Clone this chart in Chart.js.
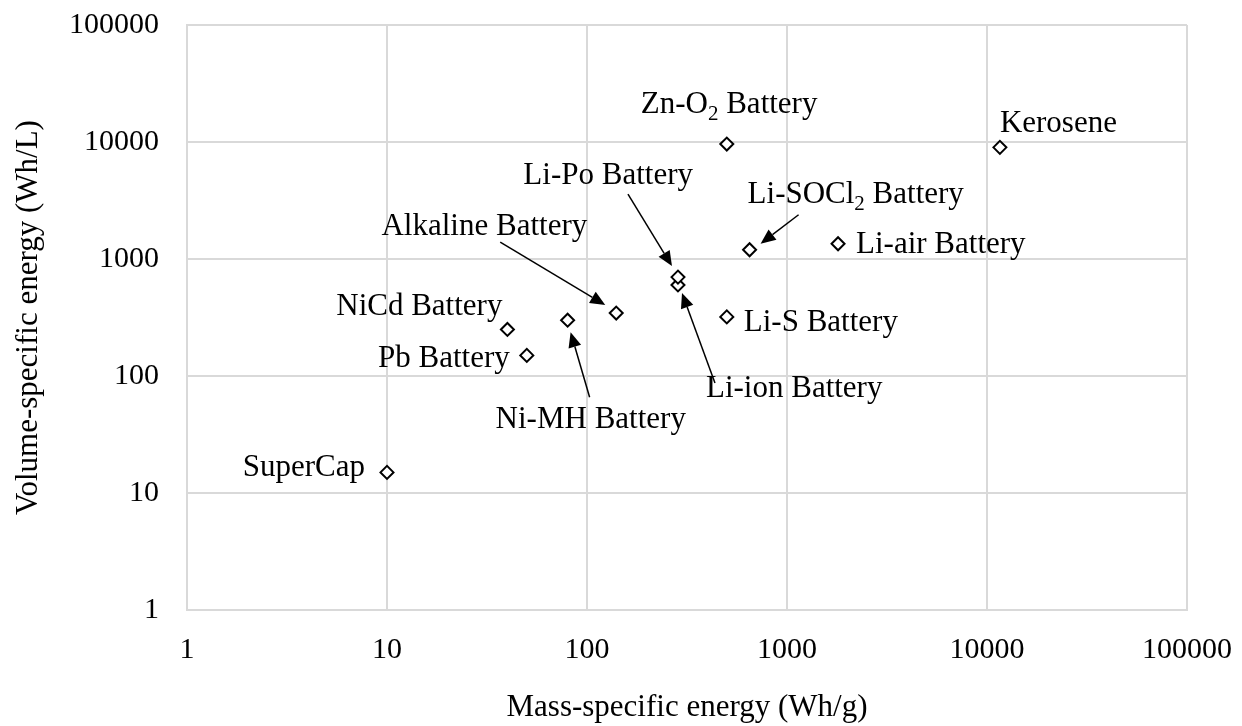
<!DOCTYPE html>
<html>
<head>
<meta charset="utf-8">
<script src="https://cdn.jsdelivr.net/npm/chart.js@4.4.1/dist/chart.umd.min.js"></script>
<style>
  html, body { margin: 0; padding: 0; background: #fff; }
  #wrap { width: 1242px; height: 726px; }
</style>
</head>
<body>
<div id="wrap"><canvas id="mainCanvas" width="1242" height="726"></canvas></div>
<script>
// data
const names = ["SuperCap", "Pb Battery", "NiCd Battery", "Ni-MH Battery", "Alkaline Battery",
  "Li-ion Battery", "Li-Po Battery", "Li-S Battery", "Zn-O₂ Battery", "Li-SOCl₂ Battery",
  "Li-air Battery", "Kerosene"];
const massEnergy = [10, 50, 40, 80, 140, 285, 285, 500, 500, 650, 1800, 11600];
const volumeEnergy = [15, 150, 250, 300, 345, 600, 700, 320, 9600, 1200, 1350, 9000];
const tickValues = [1, 10, 100, 1000, 10000, 100000];

// where each label sits relative to its point (px), plus optional arrow [tailDx, tailDy, tipDx, tipDy]
const placement = [
  {align: "right", dx: -22, dy: 4},
  {align: "right", dx: -17, dy: 12},
  {align: "right", dx: -5, dy: -14},
  {align: "left", dx: -72, dy: 108, arrow: [22, 77, 3, 12]},
  {align: "right", dx: -29, dy: -78, arrow: [-116, -71, -11, -8]},
  {align: "left", dx: 28, dy: 112, arrow: [37, 98, 4, 8]},
  {align: "right", dx: 15, dy: -93, arrow: [-50, -83, -6, -11]},
  {align: "left", dx: 17, dy: 14},
  {align: "left", dx: -86, dy: -31},
  {align: "left", dx: -2, dy: -47, arrow: [49, -35, 11, -6]},
  {align: "left", dx: 18, dy: 9},
  {align: "left", dx: 0, dy: -15}
];

const FONT = "'Liberation Serif', 'Times New Roman', serif";
const gridColor = "#d9d9d9";

// draws text, turning "₂" into a real lowered subscript
function drawRich(ctx, text, x, y, align) {
  const parts = text.split("₂");
  const big = "31px " + FONT, small = "21px " + FONT;
  let segs = [];
  parts.forEach((p, i) => {
    segs.push({t: p, sub: false});
    if (i < parts.length - 1) segs.push({t: "2", sub: true});
  });
  let total = 0;
  segs.forEach(s => { ctx.font = s.sub ? small : big; s.w = ctx.measureText(s.t).width; total += s.w; });
  let cx = align === "right" ? x - total : x;
  ctx.textAlign = "left";
  ctx.textBaseline = "alphabetic";
  segs.forEach(s => {
    ctx.font = s.sub ? small : big;
    ctx.fillText(s.t, cx, s.sub ? y + 7 : y);
    cx += s.w;
  });
}

function drawArrow(ctx, x1, y1, x2, y2) {
  const ang = Math.atan2(y2 - y1, x2 - x1);
  const len = 15, half = 6.5;
  const bx = x2 - Math.cos(ang) * len, by = y2 - Math.sin(ang) * len;
  ctx.beginPath();
  ctx.moveTo(x1, y1);
  ctx.lineTo(bx, by);
  ctx.lineWidth = 1.5;
  ctx.strokeStyle = "#000";
  ctx.stroke();
  ctx.beginPath();
  ctx.moveTo(x2, y2);
  ctx.lineTo(bx + Math.sin(ang) * half, by - Math.cos(ang) * half);
  ctx.lineTo(bx - Math.sin(ang) * half, by + Math.cos(ang) * half);
  ctx.closePath();
  ctx.fillStyle = "#000";
  ctx.fill();
}

const labelPlugin = {
  id: "pointLabels",
  afterDatasetsDraw(chart) {
    const ctx = chart.ctx;
    const meta = chart.getDatasetMeta(0);
    ctx.save();
    meta.data.forEach((pt, i) => {
      const p = placement[i];
      if (p.arrow) {
        drawArrow(ctx, pt.x + p.arrow[0], pt.y + p.arrow[1], pt.x + p.arrow[2], pt.y + p.arrow[3]);
      }
      ctx.fillStyle = "#000";
      drawRich(ctx, names[i], pt.x + p.dx, pt.y + p.dy, p.align);
    });
    ctx.restore();
  }
};

function powersOnly(scale) {
  scale.ticks = tickValues.map(v => ({value: v}));
}

// no extra room for overhanging tick labels, the layout padding handles it
function noOverhang(s) {
  s.paddingTop = 0; s.paddingBottom = 0; s.paddingLeft = 0; s.paddingRight = 0;
}

new Chart(document.getElementById("mainCanvas"), {
  type: "scatter",
  data: {
    datasets: [{
      label: "Energy density",
      data: massEnergy.map((m, i) => ({x: m, y: volumeEnergy[i]})),
      pointStyle: "rectRot",
      pointRadius: 6.5,
      pointBorderWidth: 2,
      pointBorderColor: "#000",
      pointBackgroundColor: "#fff"
    }]
  },
  options: {
    responsive: false,
    animation: false,
    layout: {padding: {top: 25, right: 55, left: 0, bottom: 0}},
    plugins: {legend: {display: false}, tooltip: {enabled: false}},
    scales: {
      x: {
        type: "logarithmic",
        min: 1, max: 100000,
        afterBuildTicks: powersOnly,
        afterFit: s => { s.height = 116; noOverhang(s); },
        grid: {color: gridColor, lineWidth: 2, drawTicks: false},
        border: {color: gridColor, width: 2},
        ticks: {
          color: "#000", padding: 22,
          font: {family: FONT, size: 30},
          maxRotation: 0,
          callback: v => String(v)
        },
        title: {
          display: true, text: "Mass-specific energy (Wh/g)", color: "#000",
          font: {family: FONT, size: 31},
          padding: {top: 0, bottom: 0}
        }
      },
      y: {
        type: "logarithmic",
        min: 1, max: 100000,
        afterBuildTicks: powersOnly,
        afterFit: s => { s.width = 187; noOverhang(s); },
        grid: {color: gridColor, lineWidth: 2, drawTicks: false},
        border: {color: gridColor, width: 2},
        ticks: {
          color: "#000", padding: 28,
          font: {family: FONT, size: 30},
          callback: v => String(v)
        },
        title: {
          display: true, text: "Volume-specific energy (Wh/L)", color: "#000",
          font: {family: FONT, size: 31},
          padding: {top: 10, bottom: 0}
        }
      }
    }
  },
  plugins: [labelPlugin]
});
</script>
</body>
</html>
